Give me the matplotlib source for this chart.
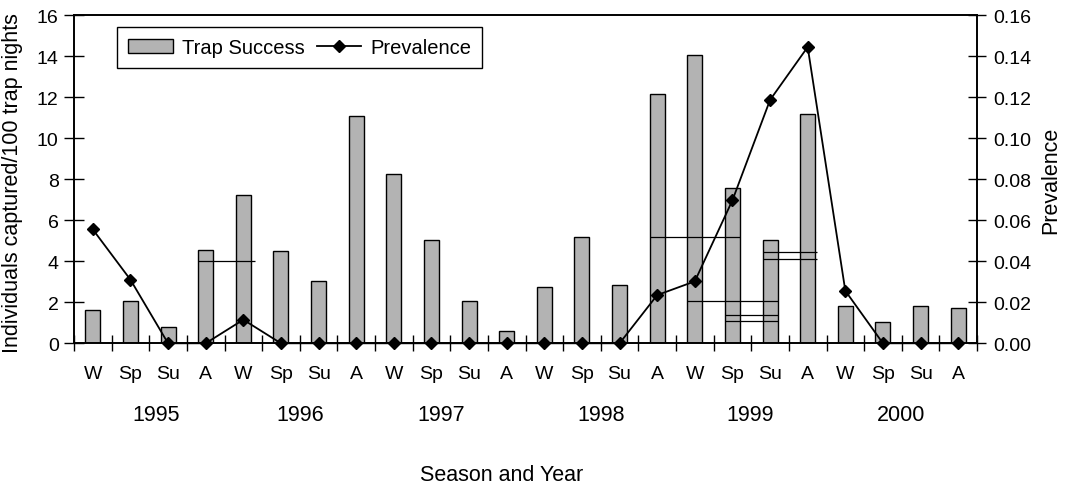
import numpy as np
import matplotlib
matplotlib.use('Agg')
import matplotlib.pyplot as plt
from matplotlib.patches import Patch
from matplotlib.lines import Line2D

plt.rcParams['font.family'] = ['Liberation Sans', 'DejaVu Sans']

# Season labels, one per sampling period (winter 1995 .. autumn 2000)
seasons = ['W', 'Sp', 'Su', 'A'] * 6
# Trap success (individuals captured / 100 trap nights)
trap_success = [1.6, 2.05, 0.78, 4.57, 7.21, 4.49, 3.05, 11.08, 8.25, 5.02, 2.05, 0.62,
                2.76, 5.2, 2.82, 12.17, 14.06, 7.55, 5.05, 11.16, 1.81, 1.03, 1.81, 1.73]
# Prevalence
prevalence = [0.0555, 0.031, 0.0, 0.0, 0.0115, 0.0, 0.0, 0.0, 0.0, 0.0, 0.0, 0.0,
              0.0, 0.0, 0.0, 0.0235, 0.0302, 0.0697, 0.1186, 0.1444, 0.0256, 0.0, 0.0, 0.0]
# Year labels and where they sit along the season axis
years = ['1995', '1996', '1997', '1998', '1999', '2000']
year_pos = [1.69, 5.51, 9.26, 13.52, 17.48, 21.49]
# Stray horizontal range lines in the original (y, from, to)
seg_y = [4.0, 5.17, 2.05, 1.39, 1.10, 4.43, 4.11]
seg_x0 = [2.8, 14.8, 15.8, 16.8, 16.8, 17.8, 17.8]
seg_x1 = [4.3, 17.2, 18.2, 18.2, 18.2, 19.25, 19.25]

x = np.arange(len(seasons))

fig = plt.figure(figsize=(10.67, 4.85), dpi=100)
ax = fig.add_axes([74 / 1067, 1 - 344.3 / 485, 903 / 1067, 328.3 / 485])
ax2 = ax.twinx()

ax.bar(x, trap_success, width=0.4, color='#b3b3b3', edgecolor='black', linewidth=1.0, zorder=2)
ax.hlines(seg_y, seg_x0, seg_x1, colors='black', linewidth=0.9, zorder=3)

ax2.plot(x, prevalence, color='black', linewidth=1.3, marker='D', markersize=6,
         clip_on=False, zorder=4)

ax.set_xlim(-0.5, len(seasons) - 0.5)
ax.set_ylim(0, 16)
ax2.set_ylim(0, 0.16)
ax.set_yticks(np.arange(0, 17, 2))
ax2.set_yticks(np.arange(0, 0.161, 0.02))
ax2.set_yticklabels([f'{v:.2f}' for v in np.arange(0, 0.161, 0.02)])

# tick marks between seasons, labels at the season centres
ax.set_xticks(np.arange(-0.5, len(seasons), 1.0))
ax.set_xticklabels([])
ax.set_xticks(x, minor=True)
ax.set_xticklabels(seasons, minor=True)
ax.tick_params(axis='x', which='major', direction='inout', length=11, width=1)
ax.tick_params(axis='x', which='minor', length=0, pad=15.5, labelsize=14)
ax.tick_params(axis='y', direction='inout', length=14, width=1, labelsize=14, pad=4)
ax2.tick_params(axis='y', direction='inout', length=13, width=1, labelsize=14, pad=5)

for a in (ax, ax2):
    for s in a.spines.values():
        s.set_linewidth(1.2)

for yr, p in zip(years, year_pos):
    ax.text(p, -0.216, yr, transform=ax.get_xaxis_transform(), ha='center', va='center',
            fontsize=15.5)

ax.set_ylabel('Individuals captured/100 trap nights', fontsize=15.5)
ax.yaxis.set_label_coords(-0.056, 0.49)
ax2.set_ylabel('Prevalence', fontsize=15.5)
ax2.yaxis.set_label_coords(1.07, 0.5)
fig.text(502 / 1067, 1 - 476 / 485, 'Season and Year', ha='center', va='center', fontsize=15.5)

handles = [Patch(facecolor='#b3b3b3', edgecolor='black', linewidth=1.0),
           Line2D([], [], color='black', linewidth=1.3, marker='D', markersize=6)]
leg = ax.legend(handles, ['Trap Success', 'Prevalence'], loc='upper left',
                bbox_to_anchor=(0.048, 0.9635), borderaxespad=0, ncol=2, fontsize=14.5,
                fancybox=False, framealpha=1, edgecolor='black', handlelength=2.2,
                handletextpad=0.45, columnspacing=0.6, borderpad=0.55)
leg.get_frame().set_linewidth(1.0)

fig.savefig('out.png', dpi=100)
